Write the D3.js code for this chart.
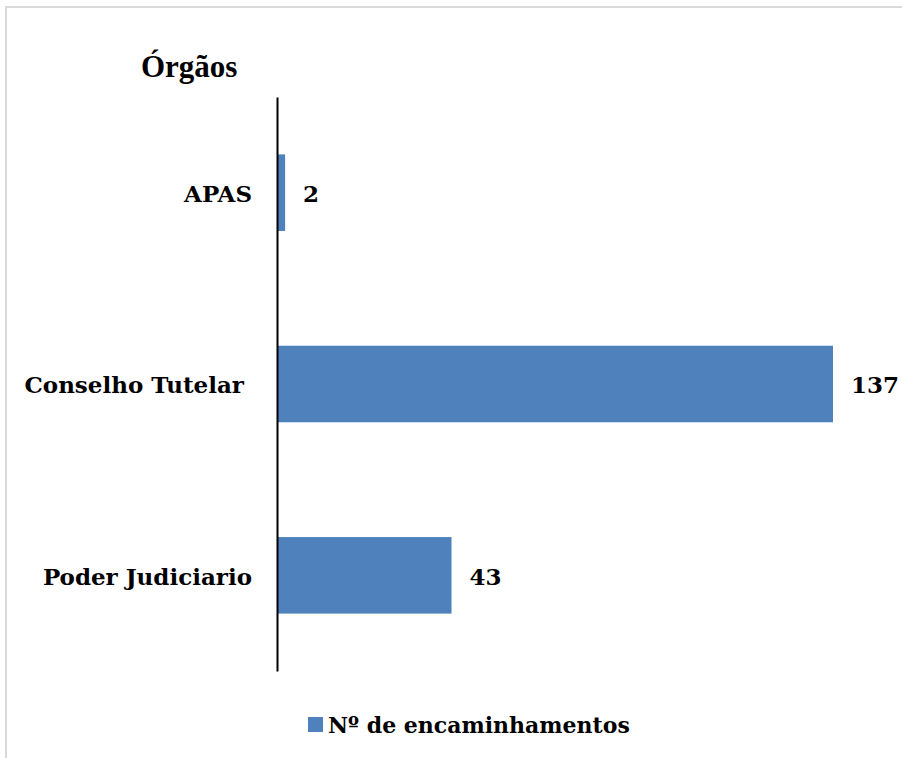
<!DOCTYPE html>
<html>
<head>
<meta charset="utf-8">
<script src="https://cdn.jsdelivr.net/npm/d3@7"></script>
<style>
  body { margin: 0; background: #fff; }
  svg { display: block; }
  .tick text { white-space: pre; }
</style>
</head>
<body>
<div class="chart"></div>
<script>
const categories = ['APAS', 'Conselho Tutelar ', 'Poder Judiciario'];
const values = [2, 137, 43];
const seriesName = 'Nº de encaminhamentos';
const axisTitle = 'Órgãos';

const width = 902, height = 758;
const labelFont = '"DejaVu Serif", serif';
const barColor = '#4f81bd';

const svg = d3.select('.chart')
  .append('svg')
    .attr('width', width)
    .attr('height', height);

svg.append('rect')
  .attr('width', width).attr('height', height)
  .attr('fill', '#fff');

// chart area border (only top and left are visible in the frame)
svg.append('rect')
  .attr('x', 6).attr('y', 7)
  .attr('width', 1200).attr('height', 1200)
  .attr('fill', 'none')
  .attr('stroke', '#d9d9d9')
  .attr('stroke-width', 2);

const x = d3.scaleLinear().domain([0, d3.max(values)]).range([277, 833]);
const y = d3.scaleBand().domain(categories).range([97, 671])
  .paddingInner(0.6).paddingOuter(0.3);

const data = categories.map((c, i) => ({ cat: c, value: values[i] }));

svg.selectAll('.bar')
  .data(data)
  .enter().append('rect')
    .attr('class', 'bar')
    .attr('x', x(0))
    .attr('y', d => y(d.cat))
    .attr('width', d => x(d.value) - x(0))
    .attr('height', y.bandwidth())
    .attr('fill', barColor);

const axis = svg.append('g')
  .attr('transform', `translate(${x(0)},0)`)
  .call(d3.axisLeft(y).tickSize(0).tickSizeOuter(0).tickPadding(25));

axis.select('.domain')
  .attr('stroke', '#000')
  .attr('stroke-width', 2);

axis.selectAll('text')
  .attr('font-family', labelFont)
  .attr('font-weight', 'bold')
  .attr('font-size', 23)
  .attr('dy', '0.4em')
  .attr('fill', '#000');

svg.selectAll('.val')
  .data(data)
  .enter().append('text')
    .attr('class', 'val')
    .attr('x', d => x(d.value) + 18)
    .attr('y', d => y(d.cat) + y.bandwidth() / 2)
    .attr('dy', '0.4em')
    .attr('font-family', labelFont)
    .attr('font-weight', 'bold')
    .attr('font-size', 23)
    .text(d => d.value);

svg.append('text')
  .attr('x', 141).attr('y', 77)
  .attr('font-family', '"Liberation Serif", serif')
  .attr('font-weight', 'bold')
  .attr('font-size', 31)
  .text(axisTitle);

// legend
const legend = svg.append('g').attr('transform', 'translate(308,717)');
legend.append('rect')
  .attr('width', 15).attr('height', 15)
  .attr('fill', barColor);
legend.append('text')
  .attr('x', 20).attr('y', 16)
  .attr('font-family', labelFont)
  .attr('font-weight', 'bold')
  .attr('font-size', 22)
  .text(seriesName);
</script>
</body>
</html>
